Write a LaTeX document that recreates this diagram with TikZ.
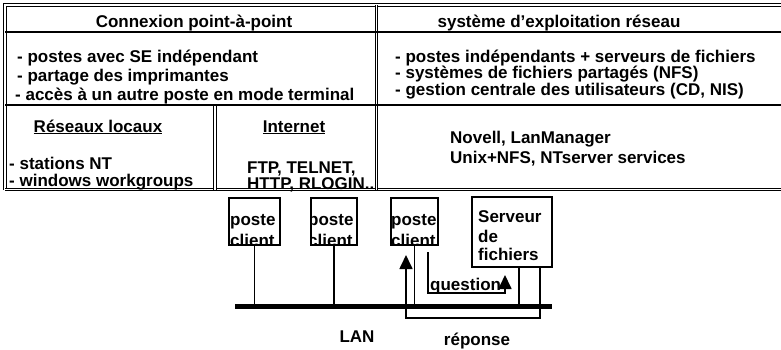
\documentclass[tikz,border=0pt]{standalone}
\usepackage{fontspec}
\setmainfont{Liberation Sans}
\usetikzlibrary{arrows.meta}
\begin{document}
\begin{tikzpicture}[x=1pt,y=-1pt,
  txt/.style={inner sep=0pt,font=\fontsize{17}{20}\selectfont\bfseries},
  tl/.style={txt,anchor=base west},
  tc/.style={txt,anchor=base},
  rule/.style={line width=1.7pt},
  drule/.style={line width=1.1pt,double,double distance=1.6pt},
  box/.style={draw,line width=1.7pt,inner sep=0pt},
  wire/.style={line width=1.7pt},
  arr/.style={wire,-{Triangle[width=13pt,length=14pt]}}]
\useasboundingbox (0,0) rectangle (781,349);
% table
\draw[drule] (5,190) -- (5,5) -- (781,5);
\draw[drule] (5,189.5) -- (781,189.5);
\draw[drule] (376.5,5) -- (376.5,189.5);
\draw[drule] (215,105) -- (215,189.5);
\draw[rule] (5,32) -- (781,32);
\draw[rule] (5,105) -- (781,105);
% header
\node[tc] (h1) at (194,27) {Connexion point-à-point};
\node[tc] (h2) at (559,27) {système d'exploitation réseau};
% bullets
\node[tl] (l1) at (17,62) {- postes avec SE indépendant};
\node[tl] (l2) at (17,81) {- partage des imprimantes};
\node[tl] (l3) at (15,100) {- accès à un autre poste en mode terminal};
\node[tl] (r1) at (395,62) {- postes indépendants + serveurs de fichiers};
\node[tl] (r2) at (395,78.5) {- systèmes de fichiers partagés (NFS)};
\node[tl] (r3) at (395,95) {- gestion centrale des utilisateurs (CD, NIS)};
% lower row
\node[tc] (rl) at (98,132) {\underline{Réseaux locaux}};
\node[tc] (in) at (294,132) {\underline{Internet}};
\node[tl] (s1) at (9,169) {- stations NT};
\node[tl] (s2) at (9,186) {- windows workgroups};
\node[tl] (f1) at (247,173) {FTP, TELNET,};
\node[tl] (f2) at (247,189) {HTTP, RLOGIN..};
\node[tl] (n1) at (450,143) {Novell, LanManager};
\node[tl] (n2) at (450,163) {Unix+NFS, NTserver services};
% network
\node[box,minimum width=51pt,minimum height=47pt] (b1) at (254.5,221.5) {};
\node[box,minimum width=46pt,minimum height=47pt] (b2) at (334,221.5) {};
\node[box,minimum width=47pt,minimum height=47pt] (b3) at (414.5,221.5) {};
\node[box,minimum width=80pt,minimum height=70pt] (sv) at (512,232) {};
\begin{scope}\clip (b1.south west) rectangle (b1.north east);
\node[tl] (p1) at (230,225) {poste};
\node[tl] (c1) at (230,246.5) {client};
\end{scope}
\begin{scope}\clip (b2.south west) rectangle (b2.north east);
\node[tl] (p2) at (308,225) {poste};
\node[tl] (c2) at (308,246.5) {client};
\end{scope}
\begin{scope}\clip (b3.south west) rectangle (b3.north east);
\node[tl] (p3) at (391,225) {poste};
\node[tl] (c3) at (391,246.5) {client};
\end{scope}
\node[tl] (sv1) at (478,222) {Serveur};
\node[tl] (sv2) at (478,242) {de};
\node[tl] (sv3) at (478,260) {fichiers};
\coordinate (busL) at (235,306);
\coordinate (busR) at (552,306);
\draw[line width=5pt] (busL) -- (busR);
\draw[wire] (b1.south) -- (b1.south |- busL);
\draw[wire] (b2.south) -- (b2.south |- busL);
\draw[wire] (b3.south) -- (b3.south |- busL);
\draw[wire] (519,267) -- (519,306);
\coordinate (rs) at (540,267);
\coordinate (rt) at (406,255);
\draw[arr] (rs) -- (540,318) -- (406,318) -- (rt);
\coordinate (qs) at (428,252);
\coordinate (qt) at (505,275);
\draw[arr] (qs) -- (428,293) -- (505,293) -- (qt);
\node[tl] (q) at (430,290) {question};
\node[tc] (lan) at (357,342) {LAN};
\node[tc] (rep) at (477,345) {réponse};
\end{tikzpicture}
\end{document}
